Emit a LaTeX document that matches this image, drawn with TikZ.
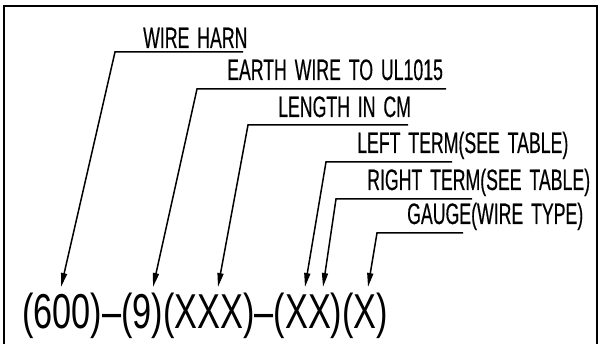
\documentclass[tikz,border=0pt]{standalone}
\usepackage{fontspec}
\newfontfamily\cadfont[FakeStretch=0.60,FakeBold=0.4,WordSpace=1.6]{Liberation Sans}
\newfontfamily\codefont[FakeStretch=0.70]{Liberation Sans}
\usetikzlibrary{arrows.meta}
\begin{document}
\begin{tikzpicture}[x=1pt,y=-1pt,
  lbl/.style={anchor=base west, inner sep=0pt, font=\cadfont\fontsize{29.5}{30}\selectfont},
  code/.style={anchor=base west, inner sep=0pt, font=\codefont\fontsize{49}{49}\selectfont},
  leader/.style={line width=1.5pt, -{Triangle[length=14pt,width=6pt]}},
  frame/.style={line width=2.4pt}]
\useasboundingbox (0,0) rectangle (605,344);
\draw[frame] (4,344) -- (4,6) -- (597,6) -- (597,344);

\node[lbl] (wh) at (143,48) {WIRE HARN};
\node[lbl] (ew) at (227,80) {EARTH WIRE TO UL1015};
\node[lbl] (lc) at (278,117) {LENGTH IN CM};
\node[lbl] (lt) at (357,153) {LEFT TERM(SEE TABLE)};
\node[lbl] (rt) at (367,190) {RIGHT TERM(SEE TABLE)};
\node[lbl] (gw) at (407,224) {GAUGE(WIRE TYPE)};

\node[code] (pn) at (22,329) {(600)–(9)(XXX)–(XX)(X)};

\coordinate (whA) at (243,52);  \coordinate (whB) at (115,52);  \coordinate (whT) at (61,287);
\coordinate (ewA) at (446,89);  \coordinate (ewB) at (197,89);  \coordinate (ewT) at (153,287);
\coordinate (lcA) at (408,125); \coordinate (lcB) at (248,125); \coordinate (lcT) at (218,287);
\coordinate (ltA) at (452,162); \coordinate (ltB) at (326,162); \coordinate (ltT) at (305,287);
\coordinate (rtA) at (472,199); \coordinate (rtB) at (336,199); \coordinate (rtT) at (323,287);
\coordinate (gwA) at (463,233); \coordinate (gwB) at (377,233); \coordinate (gwT) at (368,287);

\draw[leader] (whA) -- (whB) -- (whT);
\draw[leader] (ewA) -- (ewB) -- (ewT);
\draw[leader] (lcA) -- (lcB) -- (lcT);
\draw[leader] (ltA) -- (ltB) -- (ltT);
\draw[leader] (rtA) -- (rtB) -- (rtT);
\draw[leader] (gwA) -- (gwB) -- (gwT);
\end{tikzpicture}
\end{document}
